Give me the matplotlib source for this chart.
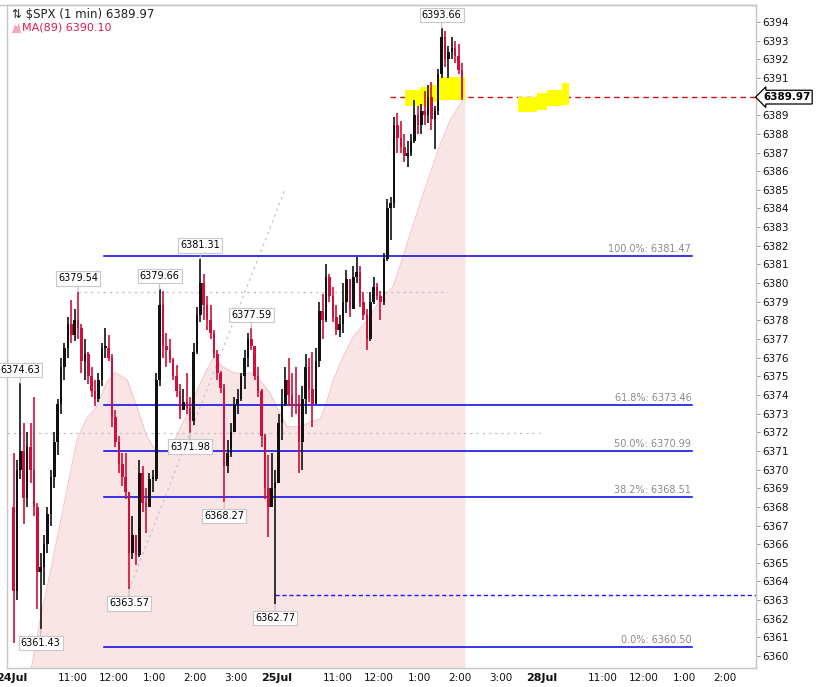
import matplotlib
matplotlib.use('Agg')
import matplotlib.pyplot as plt
from matplotlib.lines import Line2D
from matplotlib.patches import Polygon

# ---------------- data ----------------
bar_minutes = 5
first_open = 6368.0
highs = [6370.9, 6370.5, 6374.63, 6372.5, 6372.0, 6372.5, 6373.9, 6368.2, 6365.5, 6366.5,
         6368.0, 6370.0, 6372.0, 6373.8, 6376.0, 6376.8, 6378.2, 6379.1, 6378.6, 6379.54,
         6377.8, 6377.0, 6376.3, 6375.5, 6374.8, 6375.2, 6376.8, 6377.6, 6377.2, 6376.2,
         6373.2, 6371.8, 6370.9, 6370.9, 6368.6, 6367.5, 6366.4, 6370.5, 6370.2, 6369.0,
         6369.8, 6370.0, 6375.2, 6379.66, 6379.6, 6377.3, 6377.0, 6376.0, 6375.6, 6374.6,
         6374.3, 6375.2, 6373.9, 6376.8, 6378.7, 6381.31, 6380.5, 6379.3, 6378.8, 6377.5,
         6376.4, 6375.3, 6374.6, 6371.6, 6372.5, 6373.9, 6374.3, 6375.2, 6376.4, 6377.3,
         6377.59, 6376.6, 6375.5, 6374.3, 6371.9, 6370.8, 6370.9, 6370.0, 6373.0, 6374.3,
         6375.5, 6376.0, 6375.2, 6375.5, 6374.0, 6374.5, 6376.2, 6376.0, 6376.3, 6376.5,
         6379.0, 6379.4, 6381.0, 6380.5, 6379.8, 6378.8, 6378.3, 6380.0, 6380.7, 6380.2,
         6380.9, 6381.4, 6380.9, 6379.5, 6378.6, 6379.5, 6380.3, 6380.0, 6379.6, 6381.6,
         6384.5, 6384.6, 6388.9, 6389.1, 6388.7, 6388.0, 6387.6, 6388.0, 6389.8, 6389.5,
         6389.6, 6390.3, 6390.6, 6390.8, 6389.5, 6391.5, 6393.66, 6393.5, 6392.7, 6393.2,
         6393.0, 6392.8, 6391.8]
lows = [6360.7, 6363.0, 6369.5, 6367.1, 6368.0, 6369.3, 6367.5, 6362.5, 6361.43, 6363.8,
        6365.5, 6367.0, 6369.0, 6370.8, 6373.0, 6374.8, 6376.0, 6376.8, 6376.9, 6377.0,
        6375.2, 6374.8, 6374.6, 6373.9, 6373.4, 6373.6, 6374.5, 6376.0, 6375.8, 6372.3,
        6371.2, 6369.8, 6369.1, 6368.4, 6363.57, 6365.2, 6364.9, 6365.3, 6367.7, 6366.6,
        6368.0, 6368.8, 6369.4, 6374.5, 6376.0, 6375.5, 6375.7, 6374.8, 6373.9, 6372.7,
        6373.2, 6373.0, 6371.98, 6372.4, 6376.2, 6377.9, 6378.0, 6377.5, 6377.0, 6376.0,
        6374.8, 6374.1, 6368.27, 6369.8, 6370.7, 6372.0, 6373.0, 6373.7, 6374.3, 6375.5,
        6376.4, 6374.8, 6373.9, 6371.2, 6368.4, 6366.4, 6368.0, 6362.77, 6369.3, 6371.6,
        6373.4, 6373.4, 6372.8, 6373.0, 6369.8, 6370.0, 6373.0, 6373.6, 6372.3, 6373.5,
        6375.5, 6377.0, 6377.9, 6379.0, 6377.9, 6377.2, 6377.1, 6377.3, 6378.4, 6378.2,
        6378.6, 6380.0, 6378.7, 6378.0, 6376.4, 6376.9, 6378.9, 6379.1, 6378.0, 6378.8,
        6381.2, 6382.3, 6384.0, 6387.0, 6387.0, 6386.5, 6386.2, 6386.8, 6387.5, 6388.0,
        6388.0, 6388.5, 6388.6, 6388.2, 6387.2, 6389.0, 6391.0, 6391.6, 6391.0, 6392.0,
        6391.8, 6391.2, 6389.8]
closes = [6363.5, 6370.0, 6371.0, 6368.5, 6371.2, 6370.0, 6368.0, 6364.5, 6364.8, 6366.0,
          6367.6, 6369.6, 6371.5, 6373.5, 6375.5, 6376.5, 6377.8, 6377.2, 6378.0, 6377.6,
          6375.8, 6376.2, 6375.0, 6374.2, 6373.8, 6374.8, 6376.5, 6376.5, 6376.0, 6372.8,
          6371.5, 6370.3, 6369.6, 6368.8, 6365.5, 6366.5, 6365.4, 6369.8, 6368.2, 6368.0,
          6369.5, 6369.5, 6374.8, 6378.8, 6376.6, 6376.4, 6375.9, 6375.0, 6374.2, 6373.2,
          6373.6, 6373.3, 6372.6, 6376.3, 6378.3, 6380.0, 6378.8, 6378.0, 6377.3, 6376.2,
          6375.2, 6374.4, 6370.2, 6370.9, 6372.0, 6373.5, 6373.8, 6375.0, 6376.0, 6377.0,
          6376.6, 6375.0, 6374.2, 6371.8, 6369.0, 6368.0, 6369.0, 6369.3, 6372.5, 6373.5,
          6374.8, 6374.0, 6373.5, 6373.4, 6371.5, 6373.8, 6375.5, 6374.3, 6373.5, 6375.8,
          6378.5, 6378.0, 6380.3, 6379.3, 6378.2, 6377.5, 6377.8, 6379.0, 6380.2, 6378.6,
          6380.3, 6380.6, 6379.0, 6378.3, 6377.0, 6379.0, 6379.8, 6379.3, 6379.0, 6381.3,
          6384.0, 6384.3, 6388.5, 6387.8, 6387.3, 6386.8, 6387.0, 6387.6, 6389.0, 6388.5,
          6389.2, 6389.0, 6390.0, 6388.8, 6389.2, 6391.2, 6393.2, 6392.0, 6392.4, 6392.6,
          6392.2, 6391.4, 6389.97]

# MA(89) (minute index, value)
ma_t = [27, 42, 56, 81, 96, 111, 125, 140, 152, 170, 184, 199, 214, 228, 240, 258, 277,
        296, 311, 326, 339, 351, 365, 380, 390, 405, 424, 443, 454, 464, 473, 487, 502,
        523, 542, 561, 571, 586, 601, 626, 645, 664, 667]
ma_v = [6359.0, 6362.0, 6364.4, 6368.9, 6371.6, 6372.8, 6373.35, 6374.7, 6375.2, 6374.8,
        6373.35, 6371.75, 6370.9, 6370.95, 6371.6, 6373.0, 6374.6, 6376.0, 6375.5, 6375.2,
        6375.1, 6375.2, 6374.8, 6374.1, 6373.35, 6372.3, 6372.3, 6372.6, 6372.7, 6373.7,
        6374.8, 6376.0, 6377.1, 6378.0, 6379.1, 6379.8, 6380.9, 6382.6, 6384.3, 6387.0,
        6388.75, 6389.8, 6390.1]

fib_pcts = ['100.0%', '61.8%', '50.0%', '38.2%', '0.0%']
fib_levels = [6381.47, 6373.46, 6370.99, 6368.51, 6360.50]

high_marks = [2, 19, 43, 55, 70, 126]
low_marks = [8, 34, 52, 62, 77]

last_price = 6389.97
ma_last = 6390.10
support_level = 6363.25

zone1_t = [578.7, 600.8, 615.5, 627.3, 667]
zone1_top = [6390.35, 6390.5, 6390.62, 6391.05, 6391.05]
zone1_bot = [6389.5, 6389.5, 6389.7, 6389.82, 6389.82]
zone2_t = [745, 773, 787.6, 809.7, 820]
zone2_top = [6389.98, 6390.19, 6390.35, 6390.73, 6390.73]
zone2_bot = [6389.17, 6389.28, 6389.5, 6389.55, 6389.55]

y_ticks = [v for v in range(6360, 6395) if v != 6390]
tick_t = [0, 90, 150, 210, 270, 330, 390, 480, 540, 600, 660, 720, 780, 870, 930, 990, 1050]
tick_labels = ['24Jul', '11:00', '12:00', '1:00', '2:00', '3:00', '25Jul', '11:00', '12:00',
               '1:00', '2:00', '3:00', '28Jul', '11:00', '12:00', '1:00', '2:00']
day_labels = ['24Jul', '25Jul', '28Jul']

# ---------------- figure ----------------
W, H = 836, 687
fig = plt.figure(figsize=(W / 100, H / 100), dpi=100)
ax = fig.add_axes([7 / W, 19 / H, 749 / W, 663 / H])
ymin, ymax = 6359.36, 6394.91
xmin, xmax = -7.1, 1095.2
ax.set_xlim(xmin, xmax)
ax.set_ylim(ymin, ymax)

UP = '#111111'
DOWN = '#d0103a'

# MA mountain
ax.fill_between(ma_t, ma_v, ymin, color='#f9e4e6', zorder=0, lw=0)
ax.plot(ma_t, ma_v, color='#f1c9ce', lw=0.8, zorder=0.5)

# candles
opens = [first_open] + closes[:-1]
for i, (o, h, l, c) in enumerate(zip(opens, highs, lows, closes)):
    t = bar_minutes * i + bar_minutes / 2
    col = UP if c >= o else DOWN
    ax.vlines(t, min(l, o, c), max(h, o, c), color=col, lw=1.2, zorder=3)
    bot = min(o, c)
    hgt = max(abs(c - o), 0.1)
    ax.bar(t, hgt, bottom=bot, width=3.8, color=col, lw=0, zorder=3)

# dotted helper lines
gray_dot = dict(color='#c4c4c4', lw=0.9, ls=(0, (2, 3)), zorder=1)
ax.plot([bar_minutes * high_marks[1] + 2.5, 640], [highs[high_marks[1]]] * 2, **gray_dot)
ax.plot([xmin, 777], [lows[low_marks[2]]] * 2, **gray_dot)
t_a, p_a = bar_minutes * low_marks[1] + 2.5, lows[low_marks[1]]
t_b, p_b = bar_minutes * low_marks[2] + 2.5, lows[low_marks[2]]
slope = (p_b - p_a) / (t_b - t_a)
t_end = 402
ax.plot([t_a, t_end], [p_a, p_a + slope * (t_end - t_a)], **gray_dot)

# fib levels
for pct, lv in zip(fib_pcts, fib_levels):
    ax.plot([136, 1001], [lv, lv], color='#0000e6', lw=1.1, zorder=2)
    ax.annotate(f'{pct}: {lv:.2f}', xy=(1000, lv), xytext=(0, 1.5), textcoords='offset points',
                ha='right', va='bottom', fontsize=7, color='#8a8a8a', zorder=4)

# support dashed + price dashed
ax.plot([bar_minutes * low_marks[4] + 2.5, xmax], [support_level] * 2, color='#1a1aff',
        lw=1.0, ls=(0, (3, 2)), zorder=2)
ax.plot([556, xmax], [last_price] * 2, color='#cc1111', lw=1.0, ls=(0, (4, 3)), zorder=2)

# yellow zones
ax.fill_between(zone1_t, zone1_top, zone1_bot, step='post', color='#ffff00', lw=0, zorder=2.5)
ax.fill_between(zone2_t, zone2_top, zone2_bot, step='post', color='#ffff00', lw=0, zorder=2.5)

# swing labels
box = dict(boxstyle='square,pad=0.22', fc='white', ec='#c8c8c8', lw=0.8)
arr = dict(arrowstyle='-', color='#bdbdbd', lw=0.8, shrinkA=0, shrinkB=0)
for i in high_marks:
    ax.annotate(f'{highs[i]:.2f}', xy=(bar_minutes * i + 2.5, highs[i]), xytext=(0, 9.5),
                textcoords='offset points', ha='center', va='center', fontsize=7,
                bbox=box, arrowprops=arr, zorder=6)
for i in low_marks:
    ax.annotate(f'{lows[i]:.2f}', xy=(bar_minutes * i + 2.5, lows[i]), xytext=(0, -10),
                textcoords='offset points', ha='center', va='center', fontsize=7,
                bbox=box, arrowprops=arr, zorder=6)

# axes styling
for s in ['left', 'top', 'right', 'bottom']:
    ax.spines[s].set_color('#c6c6c6')
    ax.spines[s].set_linewidth(1.0)
ax.yaxis.tick_right()
ax.set_yticks(y_ticks)
ax.tick_params(axis='y', length=3, width=0.7, color='#999999', labelsize=7.5, pad=1.5,
               labelcolor='#111111')
ax.set_xticks(tick_t)
ax.set_xticklabels(tick_labels)
ax.tick_params(axis='x', length=0, labelsize=7.5, pad=3.5, labelcolor='#111111')
for lab in ax.get_xticklabels():
    if lab.get_text() in day_labels:
        lab.set_fontweight('bold')
        lab.set_fontsize(8)

# last price tag on axis
ax.annotate(f'{last_price:.2f}', xy=(1.0, last_price), xycoords=('axes fraction', 'data'),
            xytext=(5, 0), textcoords='offset points', ha='left', va='center',
            fontsize=7.5, fontweight='bold', color='black', annotation_clip=False,
            bbox=dict(boxstyle='larrow,pad=0.18', fc='white', ec='black', lw=0.9), zorder=7)

# title / legend text
fig.text(12 / W, 1 - 15 / H, '\u21c5 $SPX (1 min) 6389.97', fontsize=8.5, color='#222222',
         ha='left', va='center')
fig.text(22 / W, 1 - 28 / H, f'MA(89) {ma_last:.2f}', fontsize=8, color='#d81b4a',
         ha='left', va='center')
icon = Polygon([[12 / W, 1 - 33 / H], [15 / W, 1 - 24 / H], [17 / W, 1 - 27 / H],
                [19 / W, 1 - 23 / H], [21 / W, 1 - 33 / H]], closed=True,
               transform=fig.transFigure, fc='#f4a9b8', ec='none')
fig.patches.append(icon)
fig.lines.append(Line2D([0, 756 / W], [1 - 5 / H, 1 - 5 / H], transform=fig.transFigure,
                        color='#c6c6c6', lw=1.0))

fig.savefig('out.png', dpi=100)
